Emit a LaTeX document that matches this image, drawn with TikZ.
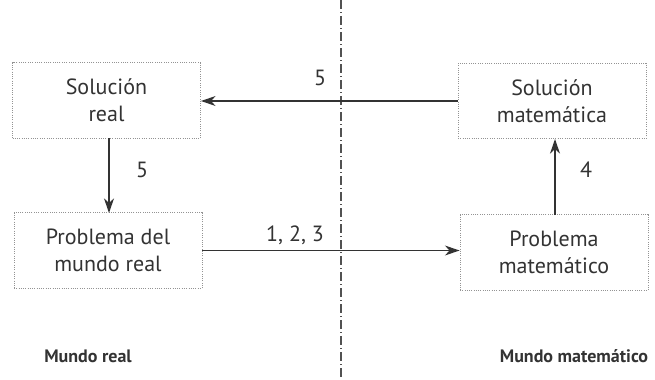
\documentclass[tikz,border=0pt]{standalone}
\usepackage{fontspec}
\setmainfont{PT Sans}
\usetikzlibrary{arrows.meta}
\definecolor{ink}{HTML}{333333}
\begin{document}
\begin{tikzpicture}[x=0.75pt,y=-0.75pt,
  box/.style={draw=gray!85, line width=0.7pt, densely dotted, inner sep=0pt, minimum width=141pt, minimum height=56.5pt, align=center, text=ink, font=\fontsize{16.5}{20.5}\selectfont},
  conn/.style={draw=ink, line width=1pt, -{Stealth[length=11pt,width=7.5pt]}},
  lab/.style={text=ink, font=\fontsize{16.5}{20}\selectfont},
  world/.style={text=ink, font=\fontsize{13.5}{16}\selectfont\bfseries}]
\useasboundingbox[fill=white] (0,0) rectangle (655,379);
\coordinate (vt) at (341,0);
\coordinate (vb) at (341,379);
\draw[ink!85, line width=0.8pt, dash pattern=on 7pt off 2pt on 1pt off 2pt] (vt) -- (vb);
\node[box] (sr) at (106.5,100.5) {Solución\\real};
\node[box] (pr) at (108,250.5) {Problema del\\mundo real};
\node[box] (sm) at (552,101) {Solución\\matemática};
\node[box] (pm) at (554,252.5) {Problema\\matemático};
\draw[conn] (sm.west) -- (sm.west -| sr.east);
\draw[conn] (109,138) -- (109,213);
\draw[conn] (pr.east) -- (pr.east -| pm.west);
\draw[conn] (555,215) -- (555,139);
\node[lab] (l5a) at (320,78) {5};
\node[lab] (l5b) at (142,170) {5};
\node[lab] (l123) at (295,235) {1, 2, 3};
\node[lab] (l4) at (586,170) {4};
\node[world] (mr) at (88,356) {Mundo real};
\node[world] (mm) at (574,356) {Mundo matemático};
\end{tikzpicture}
\end{document}
